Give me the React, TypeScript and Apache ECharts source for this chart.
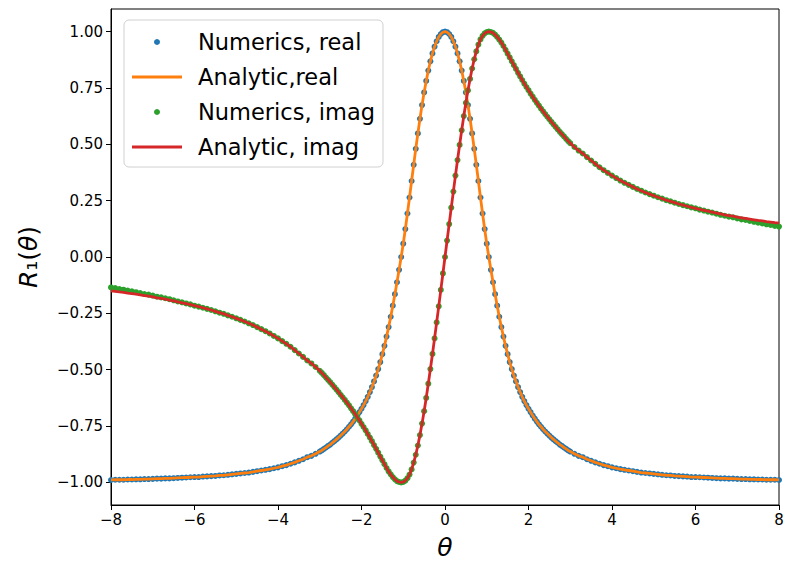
import React, { useEffect, useRef } from "react";
import * as echarts from "echarts";

// theta sample positions: 0.1 steps in the tails, 0.05 steps in the centre
const theta: number[] = [];
for (let i = -80; i <= -31; i++) theta.push(i / 10);
for (let j = -60; j <= 60; j++) theta.push(j / 20);
for (let i = 31; i <= 80; i++) theta.push(i / 10);

const numericReal: number[] = [
  // -8.0 .. -3.1
  -0.989,-0.988,-0.988,-0.988,-0.987,-0.987,-0.986,-0.986,-0.985,-0.985,
  -0.984,-0.983,-0.983,-0.982,-0.982,-0.981,-0.980,-0.979,-0.978,-0.977,
  -0.976,-0.976,-0.974,-0.973,-0.972,-0.971,-0.969,-0.968,-0.966,-0.964,
  -0.962,-0.960,-0.958,-0.956,-0.953,-0.950,-0.947,-0.944,-0.941,-0.937,
  -0.933,-0.928,-0.923,-0.917,-0.911,-0.904,-0.897,-0.888,-0.882,-0.873,
  // -3.0 .. -0.05
  -0.863,-0.858,-0.851,-0.845,-0.838,-0.832,-0.824,-0.817,-0.809,-0.801,
  -0.792,-0.783,-0.774,-0.764,-0.753,-0.742,-0.730,-0.717,-0.703,-0.688,
  -0.673,-0.657,-0.639,-0.620,-0.599,-0.577,-0.552,-0.526,-0.497,-0.466,
  -0.431,-0.394,-0.353,-0.311,-0.265,-0.216,-0.165,-0.112,-0.057,0.000,
  0.059,0.124,0.193,0.264,0.337,0.409,0.480,0.548,0.613,0.674,
  0.730,0.781,0.827,0.868,0.903,0.933,0.957,0.976,0.989,0.997,
  // 0 .. 3.0
  1.000,0.997,0.989,0.976,0.957,0.933,0.903,0.868,0.827,0.781,
  0.730,0.674,0.613,0.548,0.480,0.409,0.337,0.264,0.193,0.124,
  0.059,0.000,-0.057,-0.112,-0.165,-0.216,-0.265,-0.311,-0.353,-0.394,
  -0.431,-0.466,-0.497,-0.526,-0.552,-0.577,-0.599,-0.620,-0.639,-0.657,
  -0.673,-0.688,-0.703,-0.717,-0.730,-0.742,-0.753,-0.764,-0.774,-0.783,
  -0.792,-0.801,-0.809,-0.817,-0.824,-0.832,-0.838,-0.845,-0.851,-0.858,
  -0.863,
  // 3.1 .. 8.0
  -0.873,-0.882,-0.888,-0.897,-0.904,-0.911,-0.917,-0.923,-0.928,-0.933,
  -0.937,-0.941,-0.944,-0.947,-0.950,-0.953,-0.956,-0.958,-0.960,-0.962,
  -0.964,-0.966,-0.968,-0.969,-0.971,-0.972,-0.973,-0.974,-0.976,-0.976,
  -0.977,-0.978,-0.979,-0.980,-0.981,-0.982,-0.982,-0.983,-0.983,-0.984,
  -0.985,-0.985,-0.986,-0.986,-0.987,-0.987,-0.988,-0.988,-0.988,-0.989,
];

const analyticReal: number[] = numericReal;

const numericImag: number[] = [
  // -8.0 .. -3.1
  -0.135,-0.138,-0.142,-0.145,-0.149,-0.152,-0.156,-0.160,-0.164,-0.167,
  -0.171,-0.176,-0.179,-0.183,-0.187,-0.192,-0.197,-0.201,-0.206,-0.210,
  -0.216,-0.220,-0.225,-0.230,-0.235,-0.241,-0.247,-0.252,-0.259,-0.265,
  -0.272,-0.279,-0.286,-0.294,-0.302,-0.311,-0.320,-0.329,-0.339,-0.350,
  -0.361,-0.373,-0.385,-0.398,-0.413,-0.428,-0.443,-0.459,-0.472,-0.488,
  // -3.0 .. -0.05
  -0.505,-0.514,-0.524,-0.535,-0.545,-0.555,-0.566,-0.577,-0.588,-0.599,
  -0.611,-0.622,-0.634,-0.646,-0.658,-0.671,-0.684,-0.697,-0.711,-0.725,
  -0.740,-0.754,-0.769,-0.785,-0.801,-0.817,-0.834,-0.851,-0.868,-0.885,
  -0.902,-0.919,-0.936,-0.951,-0.964,-0.976,-0.986,-0.994,-0.998,-1.000,
  -0.998,-0.992,-0.981,-0.965,-0.942,-0.912,-0.877,-0.836,-0.790,-0.739,
  -0.684,-0.625,-0.562,-0.497,-0.430,-0.361,-0.290,-0.219,-0.146,-0.073,
  // 0 .. 3.0
  0.000,0.073,0.146,0.219,0.290,0.361,0.430,0.497,0.562,0.625,
  0.684,0.739,0.790,0.836,0.877,0.912,0.942,0.965,0.981,0.992,
  0.998,1.000,0.998,0.994,0.986,0.976,0.964,0.951,0.936,0.919,
  0.902,0.885,0.868,0.851,0.834,0.817,0.801,0.785,0.769,0.754,
  0.740,0.725,0.711,0.697,0.684,0.671,0.658,0.646,0.634,0.622,
  0.611,0.599,0.588,0.577,0.566,0.555,0.545,0.535,0.524,0.514,
  0.505,
  // 3.1 .. 8.0
  0.488,0.472,0.459,0.443,0.428,0.413,0.398,0.385,0.373,0.361,
  0.350,0.339,0.329,0.320,0.311,0.302,0.294,0.286,0.279,0.272,
  0.265,0.259,0.252,0.247,0.241,0.235,0.230,0.225,0.220,0.216,
  0.210,0.206,0.201,0.197,0.192,0.187,0.183,0.179,0.176,0.171,
  0.167,0.164,0.160,0.156,0.152,0.149,0.145,0.142,0.138,0.135,
];

const analyticImag: number[] = [
  // -8.0 .. -3.1
  -0.150,-0.152,-0.155,-0.157,-0.160,-0.162,-0.165,-0.168,-0.171,-0.174,
  -0.177,-0.181,-0.184,-0.187,-0.191,-0.195,-0.199,-0.203,-0.207,-0.211,
  -0.216,-0.220,-0.225,-0.230,-0.235,-0.241,-0.247,-0.252,-0.259,-0.265,
  -0.272,-0.279,-0.286,-0.294,-0.302,-0.311,-0.320,-0.329,-0.339,-0.350,
  -0.361,-0.373,-0.385,-0.398,-0.413,-0.428,-0.443,-0.459,-0.472,-0.488,
  // -3.0 .. -0.05
  -0.505,-0.514,-0.524,-0.535,-0.545,-0.555,-0.566,-0.577,-0.588,-0.599,
  -0.611,-0.622,-0.634,-0.646,-0.658,-0.671,-0.684,-0.697,-0.711,-0.725,
  -0.740,-0.754,-0.769,-0.785,-0.801,-0.817,-0.834,-0.851,-0.868,-0.885,
  -0.902,-0.919,-0.936,-0.951,-0.964,-0.976,-0.986,-0.994,-0.998,-1.000,
  -0.998,-0.992,-0.981,-0.965,-0.942,-0.912,-0.877,-0.836,-0.790,-0.739,
  -0.684,-0.625,-0.562,-0.497,-0.430,-0.361,-0.290,-0.219,-0.146,-0.073,
  // 0 .. 3.0
  0.000,0.073,0.146,0.219,0.290,0.361,0.430,0.497,0.562,0.625,
  0.684,0.739,0.790,0.836,0.877,0.912,0.942,0.965,0.981,0.992,
  0.998,1.000,0.998,0.994,0.986,0.976,0.964,0.951,0.936,0.919,
  0.902,0.885,0.868,0.851,0.834,0.817,0.801,0.785,0.769,0.754,
  0.740,0.725,0.711,0.697,0.684,0.671,0.658,0.646,0.634,0.622,
  0.611,0.599,0.588,0.577,0.566,0.555,0.545,0.535,0.524,0.514,
  0.505,
  // 3.1 .. 8.0
  0.488,0.472,0.459,0.443,0.428,0.413,0.398,0.385,0.373,0.361,
  0.350,0.339,0.329,0.320,0.311,0.302,0.294,0.286,0.279,0.272,
  0.265,0.259,0.252,0.247,0.241,0.235,0.230,0.225,0.220,0.216,
  0.211,0.207,0.203,0.199,0.195,0.191,0.187,0.184,0.181,0.177,
  0.174,0.171,0.168,0.165,0.162,0.160,0.157,0.155,0.152,0.150,
];

const yTicks: number[] = [-1, -0.75, -0.5, -0.25, 0, 0.25, 0.5, 0.75, 1];
const seriesNames: string[] = ["Numerics, real", "Analytic,real", "Numerics, imag", "Analytic, imag"];

const FONT = "DejaVu Sans";
const minus = (s: string) => s.replace("-", "\u2212");
const LINE_ICON = "path://M0,0 L50,0 L50,3 L0,3 Z";

export default function App() {
  const ref = useRef<HTMLDivElement>(null);
  useEffect(() => {
    document.body.style.margin = "0";
    if (!ref.current) return;
    const chart = echarts.init(ref.current, null, { renderer: "svg" });
    const pts = (ys: number[]) => theta.map((t, i) => [t, ys[i]]);
    chart.setOption({
      animation: false,
      backgroundColor: "#ffffff",
      grid: {
        left: 111, right: 8, top: 9, bottom: 58,
        show: true, borderColor: "#000", borderWidth: 1, backgroundColor: "transparent",
      },
      legend: {
        orient: "vertical",
        left: 124,
        top: 20,
        itemWidth: 50,
        itemHeight: 6,
        itemGap: 11,
        padding: [10, 8, 8, 8],
        backgroundColor: "#ffffff",
        borderColor: "#d0d0d0",
        borderWidth: 1,
        borderRadius: 5,
        textStyle: { fontFamily: FONT, fontSize: 22.5, lineHeight: 24, color: "#000", padding: [0, 0, 0, 11] },
        data: [
          { name: seriesNames[0], icon: "circle" },
          { name: seriesNames[1], icon: LINE_ICON },
          { name: seriesNames[2], icon: "circle" },
          { name: seriesNames[3], icon: LINE_ICON },
        ],
      },
      xAxis: {
        type: "value",
        min: -8, max: 8, interval: 2,
        name: "θ",
        nameLocation: "middle",
        nameGap: 30,
        nameTextStyle: { fontFamily: FONT, fontSize: 25, fontStyle: "italic", color: "#000" },
        axisLine: { show: true, onZero: false, lineStyle: { color: "#000", width: 1 } },
        axisTick: { show: true, length: 5, lineStyle: { color: "#000", width: 1 } },
        axisLabel: {
          margin: 7, fontFamily: FONT, fontSize: 15, color: "#000",
          formatter: (v: number) => minus(String(v)),
        },
        splitLine: { show: false },
      },
      yAxis: {
        type: "value",
        min: -1.1, max: 1.1,
        name: "{i|R}₁({i|θ})",
        nameLocation: "middle",
        nameGap: 70,
        nameTextStyle: {
          fontFamily: FONT, fontSize: 25, color: "#000",
          rich: { i: { fontFamily: FONT, fontSize: 25, fontStyle: "italic", color: "#000" } },
        },
        axisLine: { show: true, onZero: false, lineStyle: { color: "#000", width: 1 } },
        axisTick: { show: true, length: 5, customValues: yTicks, lineStyle: { color: "#000", width: 1 } },
        axisLabel: {
          margin: 8, fontFamily: FONT, fontSize: 15, color: "#000",
          customValues: yTicks,
          formatter: (v: number) => minus(v.toFixed(2)),
        },
        splitLine: { show: false },
      },
      series: [
        {
          name: seriesNames[0], type: "scatter", data: pts(numericReal),
          symbol: "circle", symbolSize: 6, itemStyle: { color: "#1f77b4", opacity: 1 }, z: 2, clip: true,
        },
        {
          name: seriesNames[1], type: "line", data: pts(analyticReal),
          symbol: "none", showSymbol: false,
          lineStyle: { color: "#ff7f0e", width: 2.8 }, itemStyle: { color: "#ff7f0e" }, z: 3, clip: true,
        },
        {
          name: seriesNames[2], type: "scatter", data: pts(numericImag),
          symbol: "circle", symbolSize: 6, itemStyle: { color: "#2ca02c", opacity: 1 }, z: 4, clip: true,
        },
        {
          name: seriesNames[3], type: "line", data: pts(analyticImag),
          symbol: "none", showSymbol: false,
          lineStyle: { color: "#d62728", width: 2.8 }, itemStyle: { color: "#d62728" }, z: 5, clip: true,
        },
      ],
    });
    return () => chart.dispose();
  }, []);
  return <div ref={ref} style={{ width: 787, height: 565 }} />;
}
